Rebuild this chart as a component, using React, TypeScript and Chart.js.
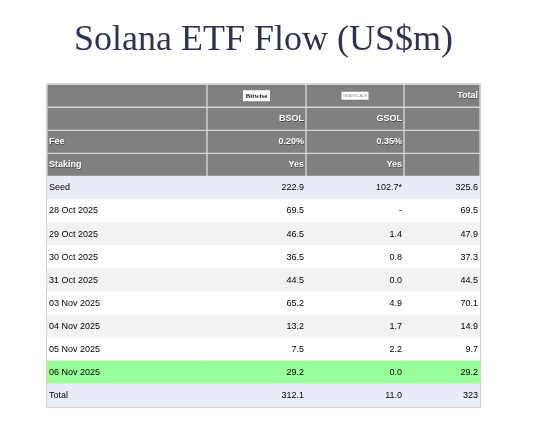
import React, { useEffect, useRef } from 'react';
import Chart from 'chart.js/auto';

// Table contents
const rowLabels = [
  '', '', 'Fee', 'Staking', 'Seed',
  '28 Oct 2025', '29 Oct 2025', '30 Oct 2025', '31 Oct 2025',
  '03 Nov 2025', '04 Nov 2025', '05 Nov 2025', '06 Nov 2025', 'Total',
];
const bsolCells = ['', 'BSOL', '0.20%', 'Yes', '222.9', '69.5', '46.5', '36.5', '44.5', '65.2', '13.2', '7.5', '29.2', '312.1'];
const gsolCells = ['', 'GSOL', '0.35%', 'Yes', '102.7*', '-', '1.4', '0.8', '0.0', '4.9', '1.7', '2.2', '0.0', '11.0'];
const totalCells = ['Total', '', '', '', '325.6', '69.5', '47.9', '37.3', '44.5', '70.1', '14.9', '9.7', '29.2', '323'];
const issuerLogos = ['', 'Bitwise', 'GRAYSCALE', ''];

const HEADER_ROWS = 4;
const columnWidths = [160, 99, 98, 76];
const columnEdges = columnWidths.reduce((acc, w) => [...acc, acc[acc.length - 1] + w], [0] as number[]);

const rowColor = (i: number) => {
  if (i < HEADER_ROWS) return '#808080';
  const label = rowLabels[i];
  if (label === 'Seed' || label === 'Total') return '#e9edf8';
  if (label === '06 Nov 2025') return '#99ff99';
  return (i - HEADER_ROWS) % 2 === 1 ? '#ffffff' : '#f2f2f2';
};

const SANS = "Arial, 'Liberation Sans', sans-serif";

const tableText = {
  id: 'tableText',
  afterDatasetsDraw(chart: any) {
    const { ctx, chartArea, scales } = chart;
    const xs = scales.x;
    const ys = scales.y;
    const columns = [rowLabels, bsolCells, gsolCells, totalCells];
    ctx.save();
    rowLabels.forEach((_, i) => {
      const y = ys.getPixelForValue(i);
      const header = i < HEADER_ROWS;
      columns.forEach((col, c) => {
        const text = col[i];
        if (i === 0 && issuerLogos[c]) {
          const cx = (xs.getPixelForValue(columnEdges[c]) + xs.getPixelForValue(columnEdges[c + 1])) / 2;
          const isBitwise = issuerLogos[c] === 'Bitwise';
          const w = 27;
          const h = isBitwise ? 11 : 8;
          ctx.fillStyle = '#ffffff';
          ctx.fillRect(cx - w / 2, y - h / 2, w, h);
          ctx.textAlign = 'center';
          ctx.textBaseline = 'middle';
          if (isBitwise) {
            ctx.font = "bold 7px 'Liberation Serif', 'Times New Roman', serif";
            ctx.fillStyle = '#222222';
          } else {
            ctx.font = `4px ${SANS}`;
            ctx.fillStyle = '#8a8a8a';
          }
          ctx.fillText(issuerLogos[c], cx, y + 0.5);
        }
        if (!text) return;
        ctx.font = header ? `bold 9px ${SANS}` : `9px ${SANS}`;
        ctx.textBaseline = 'middle';
        const x = c === 0
          ? xs.getPixelForValue(columnEdges[0]) + 2
          : xs.getPixelForValue(columnEdges[c + 1]) - 2;
        ctx.textAlign = c === 0 ? 'left' : 'right';
        if (header) {
          ctx.fillStyle = 'rgba(40,40,40,0.6)';
          ctx.fillText(text, x + 0.6, y + 0.6);
          ctx.fillStyle = '#ffffff';
        } else {
          ctx.fillStyle = '#000000';
        }
        ctx.fillText(text, x, y);
      });
    });
    // outer border
    ctx.strokeStyle = '#d9d3c6';
    ctx.lineWidth = 1;
    ctx.strokeRect(
      chartArea.left - 0.5,
      chartArea.top - 0.5,
      chartArea.right - chartArea.left + 1,
      chartArea.bottom - chartArea.top + 1,
    );
    ctx.restore();
  },
};

const App: React.FC = () => {
  const canvasRef = useRef<HTMLCanvasElement>(null);
  const chartRef = useRef<Chart | null>(null);

  useEffect(() => {
    if (!canvasRef.current) return;
    if (chartRef.current) chartRef.current.destroy();

    const datasets = columnWidths.map((_, c) => ({
      label: `col${c}`,
      data: rowLabels.map(() => [columnEdges[c], columnEdges[c + 1]]),
      backgroundColor: (ctx: any) => rowColor(ctx.dataIndex),
      borderColor: '#d6d6d6',
      borderWidth: (ctx: any) => (ctx.dataIndex < HEADER_ROWS ? 1 : 0),
      borderSkipped: false,
      grouped: false,
      barPercentage: 1,
      categoryPercentage: 1,
    }));

    chartRef.current = new Chart(canvasRef.current, {
      type: 'bar',
      data: { labels: rowLabels.map((l, i) => `${i}:${l}`), datasets: datasets as any },
      options: {
        indexAxis: 'y',
        responsive: true,
        maintainAspectRatio: false,
        animation: false,
        layout: { padding: { left: 39, right: 40, top: 0, bottom: 6 } },
        scales: {
          x: { type: 'linear', min: 0, max: columnEdges[columnEdges.length - 1], display: false },
          y: { display: false, grid: { display: false } },
        },
        plugins: {
          legend: { display: false },
          tooltip: { enabled: false },
          title: {
            display: true,
            text: 'Solana ETF Flow (US$m)',
            color: '#2c3350',
            font: { family: "'Liberation Serif', 'Times New Roman', serif", size: 36, weight: 'normal' },
            padding: { top: 11, bottom: 22 },
          },
        },
      },
      plugins: [tableText],
    });

    return () => {
      if (chartRef.current) {
        chartRef.current.destroy();
        chartRef.current = null;
      }
    };
  }, []);

  return (
    <div style={{ position: 'relative', width: '512px', height: '405px' }}>
      <canvas ref={canvasRef}></canvas>
    </div>
  );
};

export default App;
